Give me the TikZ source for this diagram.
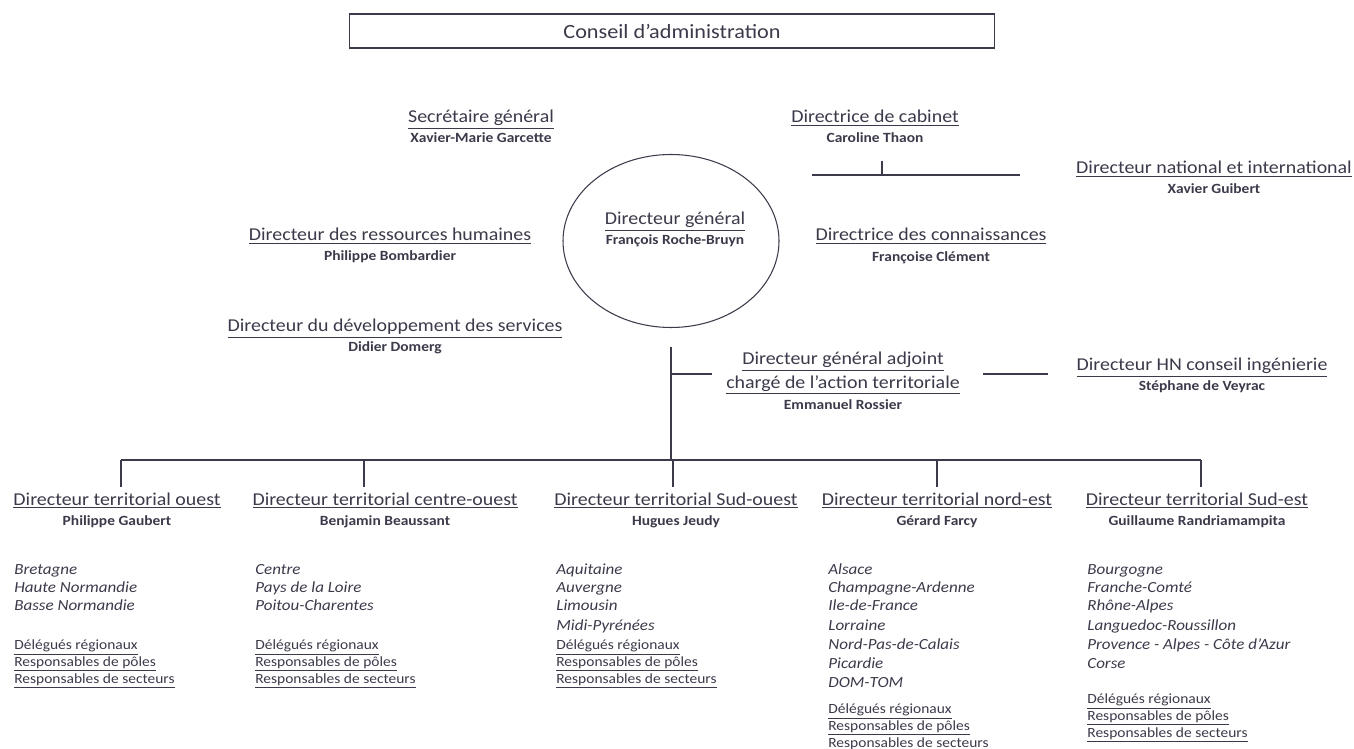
\documentclass[tikz,border=0pt]{standalone}
\usepackage{fontspec}
\setmainfont{Carlito}[FakeStretch=1.1]
\usepackage{tikz}
\usetikzlibrary{positioning,shapes.geometric}
\definecolor{ink}{RGB}{58,58,74}

\begin{document}
\begin{tikzpicture}[x=0.02cm, y=-0.02cm, every node/.style={text=ink, inner sep=0pt}]
  \tikzset{post/.style={font=\fontsize{10.3}{12}\selectfont, anchor=base},
           who/.style={font=\fontsize{8}{9}\selectfont\bfseries, anchor=base},
           region/.style={font=\fontsize{8.8}{11}\selectfont\itshape, anchor=base west},
           staff/.style={font=\fontsize{8}{9}\selectfont, anchor=base west},
           link/.style={draw=ink, line width=0.6pt}}
  \useasboundingbox (0,0) rectangle (1354,749);
  % conseil
  \node[draw=ink, line width=0.7pt, minimum width=645*0.02cm, minimum height=34*0.02cm,
        font=\fontsize{11.5}{13}\selectfont] (ca) at (672,31) {Conseil d'administration};
  % direction generale
  \node[draw=ink, line width=0.6pt, ellipse, minimum width=216*0.02cm, minimum height=173*0.02cm] (dg) at (671,241) {};
  \node[post] (dgt) at (675,225) {\underline{Directeur général}};
  \node[who] at (675,245) {François Roche-Bruyn};
  \node[post] (sg) at (481,123) {\underline{Secrétaire général}};
  \node[who] at (481,143) {Xavier-Marie Garcette};
  \node[post] (cab) at (875,123) {\underline{Directrice de cabinet}};
  \node[who] at (875,143) {Caroline Thaon};
  \node[post] (dni) at (1214,174) {\underline{Directeur national et international}};
  \node[who] at (1214,194) {Xavier Guibert};
  \node[post] (dc) at (931,241) {\underline{Directrice des connaissances}};
  \node[who] at (931,262) {Françoise Clément};
  \node[post] (drh) at (390,241) {\underline{Directeur des ressources humaines}};
  \node[who] at (390,261) {Philippe Bombardier};
  \node[post] (dds) at (395,332) {\underline{Directeur du développement des services}};
  \node[who] at (395,352) {Didier Domerg};
  \node[post] (dga) at (843,365) {\underline{Directeur général adjoint}};
  \node[post] at (843,388) {\underline{chargé de l'action territoriale}};
  \node[who] at (843,409) {Emmanuel Rossier};
  \node[post] (hn) at (1202,371) {\underline{Directeur HN conseil ingénierie}};
  \node[who] at (1202,391) {Stéphane de Veyrac};
  % liens du haut
  \coordinate (cabl) at (812,175);
  \coordinate (cabr) at (1020,175);
  \draw[link] (cabl) -- (cabr);
  \draw[link] (882,175) -- (882,161);
  \coordinate (top) at (671,347);
  \coordinate (bus) at (671,460);
  \draw[link] (top) -- (bus);
  \draw[link] (671,374) -- (712,374);
  \draw[link] (983,374) -- (1048,374);
  % directions territoriales
  \node[post] (dto) at (117,505) {\underline{Directeur territorial ouest}};
  \node[who] at (117,525) {Philippe Gaubert};
  \node[post] (dtco) at (385,505) {\underline{Directeur territorial centre-ouest}};
  \node[who] at (385,525) {Benjamin Beaussant};
  \node[post] (dtso) at (676,505) {\underline{Directeur territorial Sud-ouest}};
  \node[who] at (676,525) {Hugues Jeudy};
  \node[post] (dtne) at (937,505) {\underline{Directeur territorial nord-est}};
  \node[who] at (937,525) {Gérard Farcy};
  \node[post] (dtse) at (1197,505) {\underline{Directeur territorial Sud-est}};
  \node[who] at (1197,525) {Guillaume Randriamampita};
  \draw[link] (121,460) -- (1201,460);
  \foreach \x in {121,364,673,937,1201}
    \draw[link] (\x,460) -- (\x,487);
  % regions
  \foreach \r/\y in {Bretagne/574, Haute Normandie/592, Basse Normandie/610}
    \node[region] at (14,\y) {\r};
  \foreach \r/\y in {Centre/574, Pays de la Loire/592, Poitou-Charentes/610}
    \node[region] at (255,\y) {\r};
  \foreach \r/\y in {Aquitaine/574, Auvergne/592, Limousin/610, Midi-Pyrénées/630}
    \node[region] at (556,\y) {\r};
  \foreach \r/\y in {Alsace/574, Champagne-Ardenne/592, Ile-de-France/610, Lorraine/630, Nord-Pas-de-Calais/649, Picardie/668, DOM-TOM/687}
    \node[region] at (828,\y) {\r};
  \foreach \r/\y in {Bourgogne/574, Franche-Comté/592, Rhône-Alpes/610, Languedoc-Roussillon/630, Provence - Alpes - Côte d'Azur/649, Corse/668}
    \node[region] at (1087,\y) {\r};
  % delegues
  \foreach \x/\y in {14/649, 255/649, 556/649, 828/713, 1087/703}{
    \node[staff] at (\x,\y) {\underline{Délégués régionaux}};
    \node[staff] at (\x,\y+17) {\underline{Responsables de pôles}};
    \node[staff] at (\x,\y+34) {\underline{Responsables de secteurs}};
  }
\end{tikzpicture}
\end{document}
